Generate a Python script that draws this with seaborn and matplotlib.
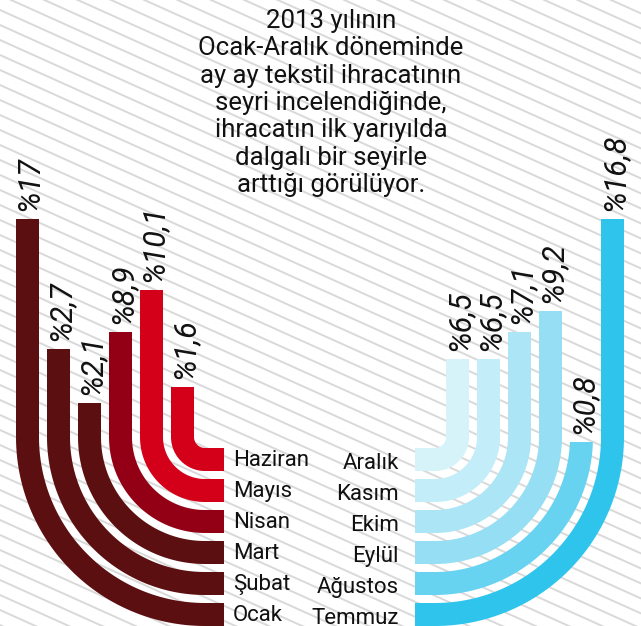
import numpy as np
import matplotlib
matplotlib.use('Agg')
import matplotlib.pyplot as plt
from matplotlib.patches import Polygon, Rectangle
import seaborn as sns

# --- data ---
first_half = ['Ocak', 'Şubat', 'Mart', 'Nisan', 'Mayıs', 'Haziran']
first_pct = ['17', '2,7', '2,1', '8,9', '10,1', '1,6']
# length of the straight part above the bend (picture units)
first_len = [218, 88, 34, 105, 147, 50]
first_colors = ['#5c0f10', '#5c0f10', '#5c0f10', '#930016', '#d4001a', '#d4001a']

second_half = ['Temmuz', 'Ağustos', 'Eylül', 'Ekim', 'Kasım', 'Aralık']
second_pct = ['16,8', '0,8', '9,2', '7,1', '6,5', '6,5']
second_len = [218, -5, 126, 105, 78, 78]
second_colors = ['#2fc4ec', '#68d3f0', '#95def4', '#ace6f6', '#c3edf9', '#d6f3fa']

title = ('2013 yılının\nOcak-Aralık döneminde\nay ay tekstil ihracatının\n'
         'seyri incelendiğinde,\nihracatın ilk yarıyılda\ndalgalı bir seyirle\n'
         'arttığı görülüyor.')

sns.set_theme(style='white')
plt.rcParams['font.family'] = ['Roboto', 'DejaVu Sans']

W, H = 641, 626
fig = plt.figure(figsize=(W / 100, H / 100), dpi=100)
ax = fig.add_axes([0, 0, 1, 1])
ax.set_xlim(0, W)
ax.set_ylim(H, 0)
ax.axis('off')

# diagonal hatch background
slope = 0.45
xs = np.array([0, W])
for b in np.arange(-320, H + 20, 15):
    ax.plot(xs, b + slope * xs, color='#d9d9d9', lw=1.4, zorder=0)

CY = 437
BAND = 23
STEP = 31
R0 = 34
phi = np.linspace(0, np.pi / 2, 60)


def band(cx, k, length, end, color, side):
    R = R0 + STEP * (5 - k)
    r = R - BAND
    top = CY - length
    s = -1 if side == 'left' else 1
    y0 = min(top, CY)
    outer = [(cx + s * R, y0)] + [(cx + s * R * np.cos(p), CY + R * np.sin(p)) for p in phi]
    outer += [(end, CY + R), (end, CY + r)]
    inner = [(cx + s * r * np.cos(p), CY + r * np.sin(p)) for p in phi[::-1]]
    inner += [(cx + s * r, y0)]
    poly = Polygon(outer + inner, closed=True, facecolor=color, edgecolor='none', zorder=2)
    ax.add_patch(poly)
    clip = Rectangle((0, top), W, H - top, transform=ax.transData)
    poly.set_clip_path(clip)
    return cx + s * (R - BAND / 2), top, CY + R - BAND / 2


# first half (left)
for k, (m, p, ln, c) in enumerate(zip(first_half, first_pct, first_len, first_colors)):
    xm, top, ym = band(205, k, ln, 224, c, 'left')
    ax.text(xm + 2, top - 8, '%' + p, rotation=90, ha='center', va='bottom',
            fontsize=22, style='italic', color='#111111', zorder=3)
    ax.text(233, ym + 1, m, ha='left', va='center', fontsize=16,
            color='#111111', zorder=3)

# second half (right)
for k, (m, p, ln, c) in enumerate(zip(second_half, second_pct, second_len, second_colors)):
    xm, top, ym = band(435, k, ln, 415, c, 'right')
    ax.text(xm + 2, top - 8, '%' + p, rotation=90, ha='center', va='bottom',
            fontsize=22, style='italic', color='#111111', zorder=3)
    ax.text(399, ym + 4, m, ha='right', va='center', fontsize=16,
            color='#111111', zorder=3)

ax.text(331, 9, title, ha='center', va='top', multialignment='center',
        fontsize=18.5, linespacing=1.175, color='#111111', zorder=3)

fig.savefig('out.png', dpi=100, facecolor='white')
